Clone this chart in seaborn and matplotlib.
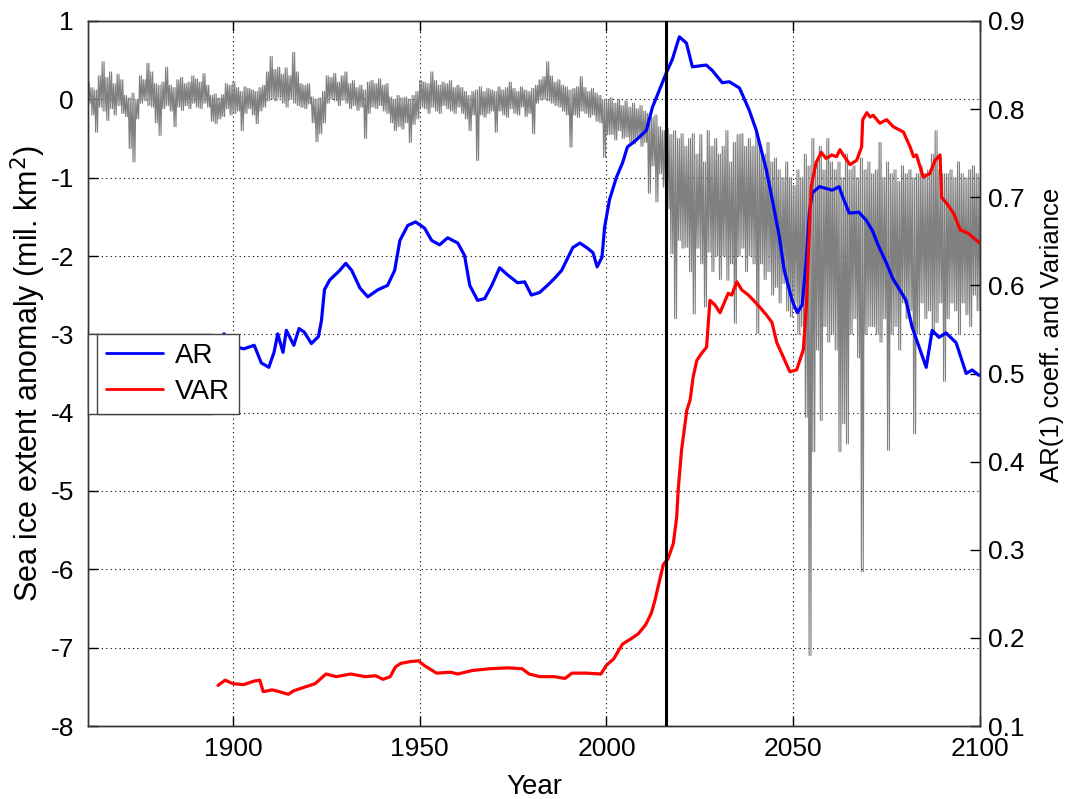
import numpy as np
import pandas as pd
import matplotlib
matplotlib.use("Agg")
import matplotlib.pyplot as plt
from matplotlib.patches import Rectangle
import seaborn as sns

# ---------------- data ----------------
# Yearly upper / lower readings of the monthly sea-ice extent anomaly (mil. km^2), 1861-2100
ice_start_year = 1861
ice_upper = [
    0.22, 0.15, 0.12, 0.30, 0.48, 0.28, 0.35, 0.20, 0.32, 0.25,
    0.05, 0.02, 0.08, 0.00, 0.30, 0.25, 0.46, 0.35, 0.20, 0.18,
    0.22, 0.41, 0.18, 0.15, 0.25, 0.28, 0.20, 0.22, 0.30, 0.26,
    0.22, 0.33, 0.18, 0.05, 0.07, 0.02, 0.06, 0.20, 0.18, 0.22,
    0.15, 0.10, 0.16, 0.14, 0.12, 0.10, 0.15, 0.18, 0.35, 0.55,
    0.38, 0.41, 0.32, 0.40, 0.30, 0.60, 0.35, 0.20, 0.18, 0.20,
    0.03, 0.00, 0.02, 0.10, 0.30, 0.28, 0.33, 0.22, 0.30, 0.35,
    0.20, 0.24, 0.15, 0.18, 0.12, 0.22, 0.24, 0.20, 0.26, 0.18,
    0.20, 0.03, 0.00, 0.05, 0.02, 0.03, 0.00, 0.05, 0.10, 0.24,
    0.22, 0.20, 0.35, 0.24, 0.18, 0.22, 0.20, 0.24, 0.15, 0.18,
    0.15, 0.10, 0.05, 0.10, 0.12, 0.16, 0.10, 0.14, 0.12, 0.10,
    0.16, 0.12, 0.15, 0.22, 0.14, 0.10, 0.16, 0.12, 0.10, 0.14,
    0.18, 0.25, 0.29, 0.48, 0.30, 0.22, 0.25, 0.18, 0.16, 0.12,
    0.14, 0.16, 0.29, 0.15, 0.10, 0.14, 0.08, 0.05, 0.00, -0.01,
    0.02, -0.05, 0.00, -0.08, -0.02, -0.10, -0.05, -0.12, -0.08, -0.15,
    -0.18, -0.23, -0.20, -0.35, -0.40, -0.37, -0.45, -0.40, -0.50, -0.44,
    -0.60, -0.50, -0.44, -0.70, -0.45, -0.80, -0.40, -0.60, -0.50, -0.70,
    -0.60, -0.40, -0.80, -0.55, -0.45, -0.44, -0.60, -0.50, -0.60, -0.44,
    -0.60, -0.70, -0.55, -0.80, -0.75, -0.90, -1.00, -0.80, -1.00, -1.10,
    -0.90, -1.00, -0.70, -0.85, -0.50, -0.80, -0.60, -0.90, -0.50, -0.80,
    -0.90, -0.80, -1.00, -0.70, -0.90, -0.85, -1.00, -0.75, -0.90, -0.80,
    -0.95, -0.90, -0.55, -1.00, -0.80, -0.95, -0.90, -1.05, -0.85, -0.95,
    -0.90, -1.00, -0.95, -0.85, -0.95, -0.90, -0.70, -0.40, -0.90, -0.95,
    -0.95, -0.90, -1.00, -0.80, -0.95, -1.00, -0.90, -0.85, -0.95, -1.00,
]
ice_lower = [
    -0.05, -0.20, -0.42, -0.10, -0.15, -0.27, -0.12, -0.20, -0.08, -0.18,
    -0.22, -0.63, -0.80, -0.25, -0.05, -0.02, -0.08, -0.10, -0.30, -0.46,
    -0.12, -0.08, -0.15, -0.35, -0.10, -0.14, -0.08, -0.12, -0.05, -0.10,
    -0.12, -0.05, -0.10, -0.28, -0.31, -0.25, -0.22, -0.12, -0.20, -0.18,
    -0.15, -0.40, -0.18, -0.12, -0.20, -0.31, -0.15, -0.10, -0.02, 0.00,
    -0.02, 0.02, -0.05, -0.10, 0.00, -0.05, -0.08, -0.10, -0.12, -0.06,
    -0.30, -0.54, -0.44, -0.30, -0.05, 0.00, -0.02, -0.08, -0.01, -0.05,
    -0.12, -0.08, -0.14, -0.10, -0.50, -0.18, -0.10, -0.12, -0.08, -0.15,
    -0.18, -0.30, -0.40, -0.35, -0.38, -0.30, -0.55, -0.32, -0.25, -0.10,
    -0.12, -0.18, -0.10, -0.15, -0.18, -0.08, -0.12, -0.15, -0.18, -0.10,
    -0.18, -0.25, -0.40, -0.20, -0.78, -0.20, -0.23, -0.18, -0.15, -0.42,
    -0.15, -0.20, -0.23, -0.12, -0.18, -0.20, -0.10, -0.22, -0.18, -0.44,
    -0.05, -0.01, 0.00, -0.02, -0.05, -0.08, -0.10, -0.15, -0.20, -0.61,
    -0.20, -0.23, -0.15, -0.18, -0.23, -0.20, -0.28, -0.30, -0.74, -0.45,
    -0.45, -0.52, -0.40, -0.50, -0.48, -0.55, -0.57, -0.50, -0.60, -0.55,
    -1.20, -0.85, -1.31, -0.95, -1.12, -1.40, -1.97, -2.80, -1.80, -1.90,
    -1.89, -2.20, -2.74, -1.90, -2.10, -2.65, -1.95, -2.20, -2.00, -2.30,
    -2.00, -2.31, -2.10, -2.86, -2.00, -1.90, -2.20, -2.00, -2.10, -2.99,
    -2.10, -2.30, -2.20, -2.50, -2.40, -2.60, -2.35, -2.70, -2.78, -2.60,
    -3.00, -2.90, -4.06, -7.10, -4.50, -3.20, -4.10, -2.90, -3.10, -3.00,
    -3.20, -4.50, -4.14, -4.40, -3.00, -2.80, -3.30, -6.03, -3.00, -2.90,
    -2.90, -3.00, -3.10, -2.80, -4.48, -3.00, -2.90, -3.20, -2.60, -2.80,
    -2.70, -4.27, -3.00, -2.60, -2.80, -2.70, -3.00, -2.85, -2.60, -3.60,
    -2.80, -2.60, -2.70, -3.00, -2.60, -2.75, -2.90, -2.50, -2.70, -2.80,
]

# Running lag-1 autocorrelation (AR) of the anomaly
ar_year = [
    1897.6, 1899.5, 1901.0, 1902.9, 1905.7, 1907.6, 1909.6, 1911.0, 1912.0, 1913.4,
    1914.3, 1916.3, 1917.7, 1919.1, 1921.0, 1922.9, 1923.7, 1924.5, 1925.9, 1928.6,
    1930.2, 1931.8, 1934.0, 1936.1, 1938.8, 1941.4, 1943.3, 1944.7, 1946.8, 1948.9,
    1951.3, 1953.2, 1955.3, 1957.5, 1960.2, 1962.0, 1963.4, 1965.5, 1967.4, 1969.3,
    1971.4, 1973.5, 1976.2, 1978.1, 1979.9, 1982.1, 1984.2, 1986.1, 1988.0, 1991.0,
    1992.9, 1995.0, 1996.4, 1997.5, 1998.8, 1999.5, 2000.8, 2002.7, 2004.3, 2005.6,
    2008.0, 2010.7, 2012.3, 2014.2, 2016.0, 2017.6, 2019.5, 2021.4, 2023.0, 2026.7,
    2028.3, 2031.0, 2032.9, 2035.6, 2038.2, 2040.1, 2042.8, 2044.4, 2046.3, 2047.6,
    2049.7, 2051.1, 2052.4, 2053.5, 2054.3, 2055.1, 2057.0, 2058.8, 2060.4, 2062.3,
    2063.1, 2065.0, 2067.6, 2069.5, 2071.1, 2073.0, 2074.9, 2076.5, 2080.2, 2081.8,
    2083.7, 2085.6, 2087.2, 2089.0, 2090.9, 2093.6, 2096.3, 2097.9, 2099.7,
]
ar_value = [
    0.545, 0.535, 0.530, 0.528, 0.532, 0.512, 0.507, 0.524, 0.545, 0.524,
    0.549, 0.532, 0.551, 0.547, 0.534, 0.542, 0.560, 0.595, 0.606, 0.617,
    0.625, 0.617, 0.597, 0.587, 0.595, 0.600, 0.617, 0.651, 0.668, 0.672,
    0.665, 0.651, 0.646, 0.654, 0.648, 0.634, 0.600, 0.583, 0.585, 0.600,
    0.620, 0.612, 0.603, 0.604, 0.589, 0.592, 0.600, 0.608, 0.617, 0.643,
    0.648, 0.642, 0.637, 0.621, 0.632, 0.666, 0.697, 0.723, 0.739, 0.757,
    0.765, 0.776, 0.802, 0.822, 0.841, 0.856, 0.882, 0.875, 0.848, 0.850,
    0.844, 0.830, 0.831, 0.824, 0.799, 0.776, 0.731, 0.697, 0.655, 0.617,
    0.583, 0.569, 0.578, 0.629, 0.682, 0.705, 0.712, 0.710, 0.708, 0.712,
    0.702, 0.682, 0.683, 0.674, 0.663, 0.643, 0.626, 0.609, 0.583, 0.553,
    0.530, 0.507, 0.549, 0.541, 0.546, 0.535, 0.500, 0.504, 0.498,
]

# Running variance (VAR) of the anomaly
var_year = [
    1896.0, 1897.9, 1900.0, 1902.9, 1905.7, 1907.2, 1908.1, 1910.5, 1912.4, 1914.8,
    1916.3, 1919.1, 1922.0, 1924.9, 1927.7, 1931.5, 1935.4, 1938.2, 1940.2, 1942.1,
    1943.5, 1944.9, 1947.3, 1949.7, 1951.1, 1954.5, 1958.3, 1960.2, 1964.1, 1968.8,
    1973.6, 1977.4, 1979.3, 1982.2, 1986.0, 1988.9, 1990.8, 1994.6, 1998.5, 2000.0,
    2001.9, 2004.3, 2006.6, 2008.6, 2010.5, 2012.0, 2013.0, 2015.2, 2016.5, 2017.9,
    2018.8, 2019.2, 2020.1, 2021.5, 2022.4, 2023.2, 2024.2, 2025.5, 2026.8, 2027.7,
    2029.0, 2030.4, 2032.6, 2033.5, 2034.9, 2036.2, 2038.0, 2039.8, 2041.1, 2042.9,
    2044.3, 2045.6, 2047.3, 2049.1, 2050.9, 2052.7, 2053.6, 2054.1, 2054.8, 2056.1,
    2057.5, 2058.8, 2060.3, 2061.6, 2062.5, 2063.4, 2065.2, 2067.0, 2068.3, 2068.6,
    2069.7, 2070.6, 2071.4, 2073.2, 2075.0, 2076.8, 2079.5, 2081.3, 2082.2, 2083.0,
    2084.8, 2086.6, 2088.0, 2089.3, 2089.7, 2091.1, 2092.9, 2094.7, 2096.9, 2098.2,
    2100.0,
]
var_value = [
    0.146, 0.152, 0.148, 0.147, 0.151, 0.152, 0.139, 0.141, 0.139, 0.136,
    0.140, 0.144, 0.148, 0.159, 0.156, 0.159, 0.156, 0.157, 0.153, 0.156,
    0.167, 0.171, 0.173, 0.174, 0.169, 0.160, 0.161, 0.159, 0.163, 0.165,
    0.166, 0.165, 0.159, 0.156, 0.156, 0.154, 0.160, 0.160, 0.159, 0.169,
    0.176, 0.193, 0.199, 0.205, 0.215, 0.228, 0.243, 0.283, 0.290, 0.307,
    0.337, 0.368, 0.413, 0.458, 0.470, 0.496, 0.515, 0.523, 0.530, 0.583,
    0.578, 0.569, 0.591, 0.589, 0.604, 0.595, 0.589, 0.581, 0.575, 0.566,
    0.558, 0.535, 0.519, 0.502, 0.504, 0.527, 0.583, 0.640, 0.712, 0.739,
    0.751, 0.744, 0.748, 0.746, 0.754, 0.748, 0.737, 0.742, 0.757, 0.788,
    0.796, 0.791, 0.793, 0.784, 0.788, 0.780, 0.774, 0.757, 0.746, 0.748,
    0.723, 0.727, 0.742, 0.748, 0.700, 0.693, 0.682, 0.663, 0.659, 0.654,
    0.648,
]

present_year = 2016
x_ticks = [1900, 1950, 2000, 2050, 2100]
left_ticks = [1, 0, -1, -2, -3, -4, -5, -6, -7, -8]
right_ticks = [0.1, 0.2, 0.3, 0.4, 0.5, 0.6, 0.7, 0.8, 0.9]

# ---------------- tables ----------------
ice_years = ice_start_year + np.arange(len(ice_upper))
# each year's trace swings twice between its upper and lower reading
ice_x = np.repeat(ice_years, 4) + np.tile([0.0, 0.25, 0.5, 0.75], len(ice_years))
ice_y = np.column_stack([ice_upper, ice_lower, ice_upper, ice_lower]).ravel()
ice_df = pd.DataFrame({"year": ice_x, "anomaly": ice_y})
ar_df = pd.DataFrame({"year": ar_year, "value": ar_value})
var_df = pd.DataFrame({"year": var_year, "value": var_value})

# ---------------- figure ----------------
sns.set_theme(style="white")
plt.rcParams["font.family"] = ["Liberation Sans", "DejaVu Sans"]
plt.rcParams["axes.unicode_minus"] = False
plt.rcParams["text.color"] = "black"
plt.rcParams["axes.labelcolor"] = "black"

W, H = 1066, 799
fig = plt.figure(figsize=(W / 100, H / 100), dpi=100)
fig.patch.set_facecolor("white")
L, R, T, B = 88, 980, 21, 726
ax = fig.add_axes([L / W, 1 - B / H, (R - L) / W, (B - T) / H])
ax2 = ax.twinx()

sns.lineplot(data=ice_df, x="year", y="anomaly", ax=ax, color="#808080",
             linewidth=0.8, sort=False, estimator=None, legend=False)

sns.lineplot(data=ar_df, x="year", y="value", ax=ax2, color="#0000ff",
             linewidth=2.3, sort=False, estimator=None, label="AR")
sns.lineplot(data=var_df, x="year", y="value", ax=ax2, color="#ff0000",
             linewidth=2.3, sort=False, estimator=None, label="VAR")
ax2.axvline(present_year, color="black", linewidth=2.2, zorder=6)

ax.set_xlim(1861.2, 2100)
ax.set_ylim(-8, 1)
ax2.set_ylim(0.1, 0.9)
ax.set_xticks(x_ticks)
ax.set_yticks(left_ticks)
ax2.set_yticks(right_ticks)
ax.set_yticklabels([str(t) for t in left_ticks])
ax2.set_yticklabels([f"{t:.1f}" for t in right_ticks])

ax.grid(True, linestyle=(0, (1, 3)), color="black", linewidth=0.8)
ax2.grid(False)
ax.set_axisbelow(True)

for a in (ax, ax2):
    for s in a.spines.values():
        s.set_color("#333333")
        s.set_linewidth(1.0)
ax.tick_params(axis="both", which="both", direction="in", length=7, width=1,
               labelsize=19, colors="black", labelcolor="black", top=True,
               bottom=True, left=True, right=False, pad=8)
ax.tick_params(axis="y", pad=10)
ax2.tick_params(axis="y", direction="in", length=7, width=1, labelsize=19,
                colors="black", labelcolor="black", pad=6)

ax.set_xlabel("Year", fontsize=20, labelpad=9)
ax.set_ylabel("Sea ice extent anomaly (mil. km$^2$)", fontsize=22, labelpad=2)
ax2.set_ylabel("AR(1) coeff. and Variance", fontsize=18.5)
ax2.yaxis.set_label_coords(1.067, (B - 335) / (B - T))

# empty box behind the legend
ax2.add_patch(Rectangle((0.0, (B - 414) / (B - T)), 0.14, (414 - 334) / (B - T),
                        transform=ax.transAxes, facecolor="white",
                        edgecolor="#444444", linewidth=1.0, zorder=7,
                        clip_on=False))
leg = ax2.legend(loc="upper left", bbox_to_anchor=((97 - L) / (R - L), (B - 334) / (B - T)),
                 borderaxespad=0, fontsize=20, frameon=True, fancybox=False,
                 framealpha=1, edgecolor="#444444", handlelength=2.05,
                 handletextpad=0.45, borderpad=0.32, labelspacing=0.36)
leg.get_frame().set_linewidth(1.0)
leg.set_zorder(8)
for line in leg.get_lines():
    line.set_linewidth(2.0)

fig.savefig("out.png", dpi=100)
